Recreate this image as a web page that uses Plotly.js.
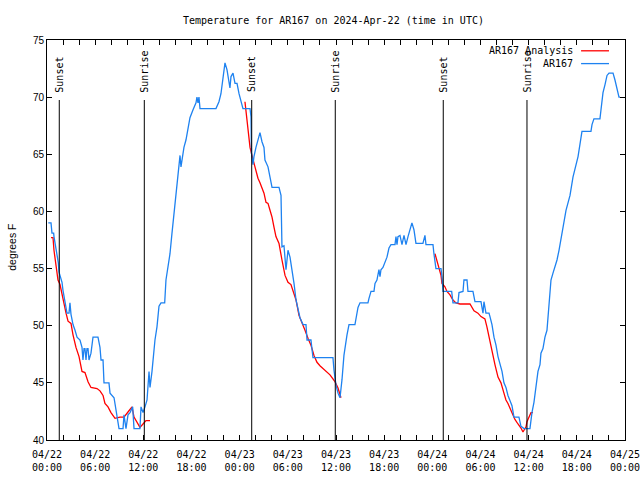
<!DOCTYPE html>
<html>
<head>
<meta charset="utf-8">
<script src="https://cdn.plot.ly/plotly-3.0.1.min.js"></script>
<style>html,body{margin:0;padding:0;background:#fff;}#chart{width:640px;height:480px;}</style>
</head>
<body>
<div id="chart"></div>
<script>
// Observed station temperature (hours since 2024-04-22 00:00 UTC, degrees F)
const obsHours = [0.16,0.50,0.62,0.83,0.87,1.12,1.41,1.49,1.62,1.87,1.99,2.18,2.37,2.49,2.74,2.86,2.99,3.24,3.49,3.74,4.11,4.36,4.48,4.61,4.73,4.86,4.98,5.11,5.23,5.48,5.73,6.35,6.60,6.73,6.98,7.10,7.72,7.85,8.35,8.72,8.97,9.47,9.59,9.84,10.09,10.34,10.67,10.84,11.09,11.58,11.71,11.96,12.21,12.46,12.71,12.83,13.08,13.20,13.45,13.70,13.95,14.20,14.66,14.82,15.07,15.32,15.57,15.82,16.07,16.32,16.57,16.69,16.88,17.06,17.31,17.56,17.81,18.19,18.56,18.68,18.81,18.93,19.06,21.05,21.42,21.67,21.92,22.17,22.42,22.67,22.79,22.92,23.17,23.42,23.67,23.92,24.41,24.66,25.29,25.41,25.47,25.66,25.78,26.03,26.28,26.53,26.78,27.03,27.15,27.53,27.78,28.03,28.90,29.15,29.27,29.52,29.77,30.02,30.27,30.52,30.77,31.02,31.26,31.51,31.89,32.26,32.39,32.88,33.13,35.62,35.75,36.00,36.25,36.50,36.75,36.99,37.37,37.62,38.36,38.49,38.74,38.99,39.98,40.11,40.36,40.73,40.86,41.10,41.35,41.48,41.60,41.85,42.10,42.35,42.60,42.85,43.35,43.47,43.60,43.72,43.97,44.22,44.47,44.72,44.97,45.22,45.46,45.71,45.96,46.83,47.08,47.21,48.08,48.20,48.45,49.08,49.20,49.33,50.41,50.57,51.19,51.32,51.82,51.94,52.32,52.44,53.06,53.31,54.06,54.31,54.43,54.68,55.06,55.18,55.43,55.68,55.93,56.18,56.43,56.68,56.92,57.17,57.42,57.67,57.92,58.17,58.79,59.04,59.42,60.16,60.29,60.41,60.66,60.91,61.16,61.41,61.53,61.78,62.03,62.28,62.53,62.78,63.03,63.28,63.53,63.78,64.15,64.65,65.15,65.52,66.15,66.39,66.64,67.76,67.89,68.13,68.88,69.01,69.26,69.51,69.76,70.01,70.51,70.75,71.00,71.25,71.38];
const obsTemp = [59.0,59.0,58.1,58.1,57.8,56.8,55.5,54.7,54.3,53.8,53.1,52.3,51.8,51.1,51.1,52.0,51.0,50.1,49.6,49.0,48.75,48.1,47.0,48.0,48.0,47.0,48.0,48.0,47.0,47.6,49.0,49.0,48.1,47.0,47.0,45.0,45.0,44.1,43.7,42.2,41.0,41.0,42.2,41.0,42.2,42.4,42.9,41.0,41.0,41.0,42.9,42.4,42.9,43.5,46.0,44.6,46.0,47.0,48.75,49.9,51.7,52.0,52.0,54.0,55.1,56.3,58.1,59.9,61.6,63.4,64.9,63.9,64.9,65.6,66.25,67.4,68.2,68.9,69.5,70.0,69.5,70.0,69.0,69.0,69.6,70.3,71.8,73.0,72.4,71.2,70.8,71.8,72.1,71.2,71.2,70.3,69.0,69.0,69.0,68.3,65.1,64.1,64.8,65.6,66.25,66.9,66.1,65.6,64.5,63.9,63.0,62.1,62.1,61.4,56.9,57.0,54.9,56.6,56.0,55.0,53.7,52.25,51.4,50.7,50.1,50.1,48.75,48.75,47.2,47.2,46.1,44.8,44.1,43.7,45.3,47.4,49.2,50.1,50.1,50.7,51.6,52.0,52.0,52.4,53.0,53.0,53.7,54.0,54.9,54.3,54.9,55.1,55.6,56.0,56.8,57.1,57.1,57.8,57.1,57.8,57.9,57.1,57.9,57.1,57.8,58.4,59.0,58.4,57.2,57.2,57.9,57.1,57.1,56.3,55.0,55.0,54.3,53.0,53.0,52.0,52.0,52.9,53.0,54.0,54.0,53.0,53.0,52.1,52.1,51.1,52.1,51.1,51.1,50.8,50.1,49.0,48.3,47.3,46.6,46.0,45.0,44.6,43.9,43.5,43.0,42.0,42.0,41.2,41.0,41.0,41.75,42.4,43.3,44.6,46.0,46.6,47.6,48.0,49.0,49.6,52.0,54.0,54.6,55.1,55.75,56.6,58.2,60.1,61.4,63.0,64.8,66.0,67.0,67.0,67.6,68.1,68.1,68.9,70.4,71.1,71.9,72.1,72.1,71.5,70.8,70.0,70.0];

// Analysis temperature (three overnight segments; null separates them)
const anaHours = [0.50,0.75,0.87,1.00,1.12,1.37,1.62,1.87,2.12,2.37,2.62,2.99,3.24,3.61,3.99,4.36,4.73,5.11,5.48,6.23,6.60,6.98,7.22,7.60,7.97,8.47,9.09,9.59,10.09,10.59,10.84,11.21,11.58,11.96,12.33,12.83,
  null,
  24.66,24.79,25.04,25.29,25.53,25.78,26.03,26.28,26.53,26.78,27.03,27.28,27.53,27.78,28.03,28.28,28.52,28.90,29.02,29.27,29.65,30.02,30.39,30.64,31.02,31.39,31.76,32.14,32.51,32.88,33.26,33.63,34.00,34.63,35.25,35.87,36.25,36.62,
  null,
  48.33,48.58,48.83,49.08,49.20,49.57,49.82,50.20,50.57,50.94,51.44,51.94,52.69,53.19,53.68,54.06,54.55,54.80,55.06,55.30,55.55,55.80,56.18,56.55,56.92,57.17,57.42,57.67,58.05,58.29,58.67,59.04,59.29,59.54,59.67,59.79,60.04,60.29,60.54];
const anaTemp = [57.7,57.7,56.6,55.9,55.0,54.0,53.6,52.7,51.8,51.1,50.4,50.2,49.2,48.1,47.3,46.0,45.9,45.1,44.6,44.5,44.3,43.9,43.2,42.9,42.4,41.9,42.0,42.0,42.45,42.9,42.0,41.5,41.1,41.4,41.7,41.7,
  null,
  69.6,68.7,67.6,65.6,64.9,64.2,63.4,62.9,62.5,62.1,61.6,60.8,60.7,60.1,59.5,58.6,57.8,57.2,56.6,55.75,54.4,53.8,53.6,53.1,52.25,50.9,50.3,49.6,48.9,48.3,47.4,46.8,46.5,46.1,45.7,45.1,44.55,43.7,
  null,
  56.3,55.6,55.0,54.4,53.7,53.4,53.0,52.7,52.25,52.0,51.9,51.9,51.9,51.3,51.1,50.8,50.6,49.9,49.0,48.4,47.6,46.6,45.5,45.0,44.1,43.5,43.2,42.8,42.2,41.8,41.4,41.05,40.7,41.05,41.15,41.6,42.0,42.4,42.4];

// Sun events (hours since 2024-04-22 00:00 UTC)
const sunHours = [1.53, 12.12, 25.50, 35.91, 49.36, 59.79];
const sunLabels = ["Sunset", "Sunrise", "Sunset", "Sunrise", "Sunset", "Sunrise"];

const seriesNames = ["AR167 Analysis", "AR167"];
const seriesColors = ["#ff0000", "#1e82f0"];

const T0 = Date.UTC(2024, 3, 22, 0, 0, 0);
function toTime(h) {
  if (h === null) return null;
  return new Date(T0 + Math.round(h * 3600000)).toISOString().slice(0, 19).replace("T", " ");
}

const mono = "DejaVu Sans Mono, monospace";
const sans = "Liberation Sans, Arial, sans-serif";

const traces = [
  {x: anaHours.map(toTime), y: anaTemp, type: "scatter", mode: "lines", name: seriesNames[0],
   line: {color: seriesColors[0], width: 1.3}, connectgaps: false, showlegend: false},
  {x: obsHours.map(toTime), y: obsTemp, type: "scatter", mode: "lines", name: seriesNames[1],
   line: {color: seriesColors[1], width: 1.3}, showlegend: false}
];

const shapes = sunHours.map(h => ({
  type: "line", xref: "x", yref: "paper", x0: toTime(h), x1: toTime(h), y0: 0, y1: 0.85,
  line: {color: "#000", width: 1}
}));

const annotations = sunHours.map((h, i) => ({
  x: toTime(h), xref: "x", y: 0.864, yref: "paper", text: sunLabels[i], textangle: -90,
  showarrow: false, xanchor: "center", yanchor: "bottom", font: {family: mono, size: 10, color: "#000"}
}));

// legend drawn as text + line samples at top right (text to the left of sample)
const legY = [0.973, 0.941];
seriesNames.forEach((n, i) => {
  annotations.push({x: 0.914, xref: "paper", y: legY[i], yref: "paper", text: n, showarrow: false,
    xanchor: "right", yanchor: "middle", font: {family: mono, size: 10, color: "#000"}});
  shapes.push({type: "line", xref: "paper", yref: "paper", x0: 0.924, x1: 0.9723, y0: legY[i], y1: legY[i],
    line: {color: seriesColors[i], width: 1.3}});
});

// y-axis title
annotations.push({x: -0.061, xref: "paper", y: 0.4825, yref: "paper", text: "degrees F", textangle: -90,
  showarrow: false, xanchor: "center", yanchor: "middle", font: {family: sans, size: 10.5, color: "#000"}});

const layout = {
  width: 640, height: 480,
  margin: {l: 47, r: 15, t: 40, b: 40, pad: 0},
  paper_bgcolor: "#fff", plot_bgcolor: "#fff",
  showlegend: false,
  title: {text: "Temperature for AR167 on 2024-Apr-22 (time in UTC)", xref: "container", x: 0.521, xanchor: "center",
    yref: "container", y: 0.958, yanchor: "middle", font: {family: mono, size: 10, color: "#000"}},
  xaxis: {
    type: "date", range: [toTime(0), toTime(72)],
    dtick: 6 * 3600000, tick0: toTime(0), tickformat: "%m/%d<br>%H:%M",
    ticks: "inside", ticklen: 5, tickcolor: "#000", tickwidth: 1,
    minor: {dtick: 2 * 3600000, ticks: "inside", ticklen: 5, tickcolor: "#000", showgrid: false},
    showline: true, linecolor: "#000", linewidth: 1, mirror: "ticks",
    showgrid: false, zeroline: false, ticklabelstandoff: 5, ticklabeloverflow: "allow",
    tickfont: {family: mono, size: 10, color: "#000"}, automargin: false
  },
  yaxis: {
    range: [40, 75], dtick: 5, tick0: 40,
    ticks: "inside", ticklen: 5, tickcolor: "#000", tickwidth: 1,
    showline: true, linecolor: "#000", linewidth: 1, mirror: "ticks",
    showgrid: false, zeroline: false, ticklabeloverflow: "allow",
    tickfont: {family: sans, size: 10, color: "#000"},
    automargin: false
  },
  shapes: shapes,
  annotations: annotations
};

Plotly.newPlot("chart", traces, layout, {displayModeBar: false, staticPlot: true});
</script>
</body>
</html>
